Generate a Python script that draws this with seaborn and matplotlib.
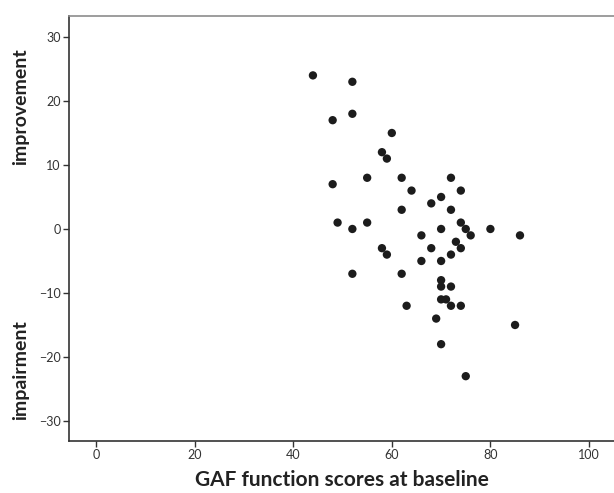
import matplotlib
matplotlib.use("Agg")
import matplotlib.pyplot as plt
import seaborn as sns
import pandas as pd

gaf_baseline = [44, 52, 48, 52, 60, 58, 59, 48, 55, 62, 64, 72, 74, 68, 70, 62, 72,
                49, 55, 52, 70, 74, 75, 76, 80, 86, 66, 73, 58, 59, 68, 74, 72, 66,
                70, 52, 62, 70, 70, 72, 70, 71, 72, 74, 63, 69, 85, 70, 75]
change = [24, 23, 17, 18, 15, 12, 11, 7, 8, 8, 6, 8, 6, 4, 5, 3, 3,
          1, 1, 0, 0, 1, 0, -1, 0, -1, -1, -2, -3, -4, -3, -3, -4, -5,
          -5, -7, -7, -8, -9, -9, -11, -11, -12, -12, -12, -14, -15, -18, -23]
x_ticks = [0, 20, 40, 60, 80, 100]
y_ticks = [-30, -20, -10, 0, 10, 20, 30]
x_label = "GAF function scores at baseline"
upper_label = "improvement"
lower_label = "impairment"

df = pd.DataFrame({"gaf": gaf_baseline, "change": change})

sns.set_theme(style="white")
plt.rcParams["font.family"] = ["Lato", "DejaVu Sans"]

fig = plt.figure(figsize=(6.14, 4.93), dpi=100)
ax = fig.add_axes([69 / 614, 52 / 493, 545 / 614, 425 / 493])

sns.scatterplot(data=df, x="gaf", y="change", ax=ax, s=36, color="#1c1c1c",
                edgecolor="none", linewidth=0)

ax.set_xlim(-5.48, 105.07)
ax.set_ylim(-33.13, 33.28)
ax.set_xticks(x_ticks)
ax.set_yticks(y_ticks)
ax.set_xticklabels([str(v) for v in x_ticks])
ax.set_yticklabels([str(v).replace("-", "\u2212") for v in y_ticks])
ax.tick_params(axis="both", direction="out", length=4, width=1, color="#333333",
               labelsize=9, labelcolor="#333333", pad=2, left=True, bottom=True)

for side in ["left", "bottom"]:
    ax.spines[side].set_color("#333333")
    ax.spines[side].set_linewidth(1.2)
ax.spines["top"].set_color("#8c8c8c")
ax.spines["top"].set_linewidth(1.2)
ax.spines["right"].set_visible(False)

ax.set_xlabel(x_label, fontsize=15, fontweight="bold", color="#222222", labelpad=6)
ax.set_ylabel("")

fig.text(21 / 614, 1 - 107 / 493, upper_label, rotation=90, ha="center", va="center",
         fontsize=14, fontweight="bold", color="#222222")
fig.text(21 / 614, 1 - 370 / 493, lower_label, rotation=90, ha="center", va="center",
         fontsize=14, fontweight="bold", color="#222222")

fig.savefig("out.png", dpi=100)
